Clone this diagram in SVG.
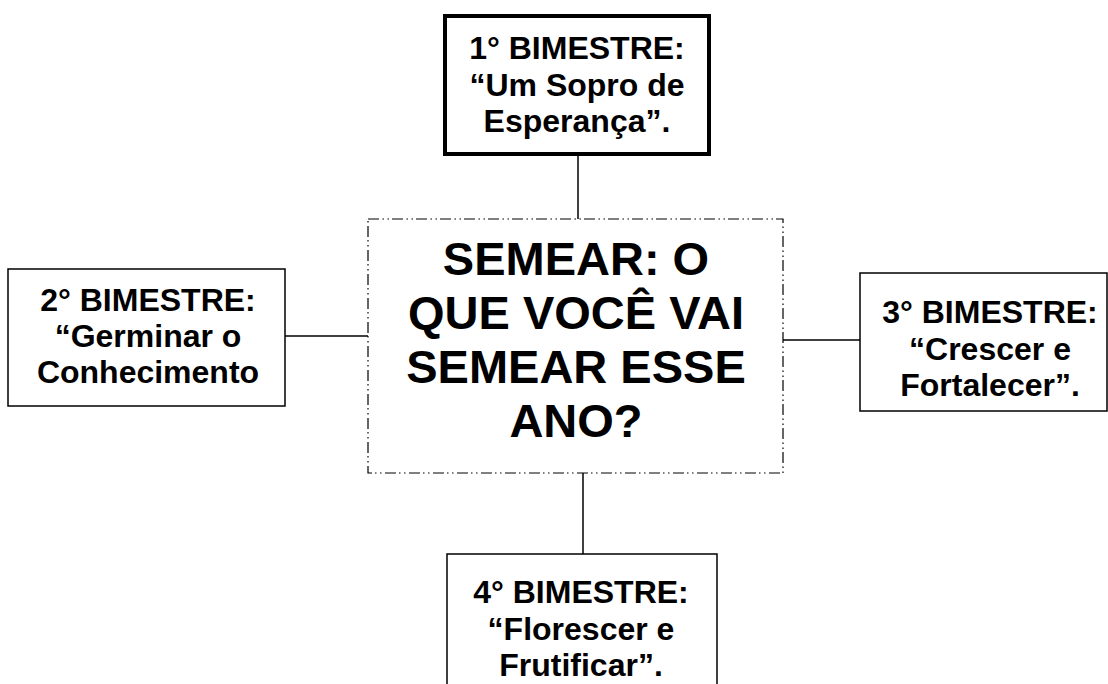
<svg xmlns="http://www.w3.org/2000/svg" width="1108" height="684" viewBox="0 0 1108 684">
<style>
.box{fill:#fff;stroke:#000;stroke-width:1.5}
.thick{fill:#fff;stroke:#000;stroke-width:4}
.center{fill:#fff;stroke:#000;stroke-width:1.2;stroke-dasharray:11 3.5 1.5 3.5 1.5 3}
.conn{stroke:#000;stroke-width:1.5;fill:none}
.t{font-family:"Liberation Sans",Arial,sans-serif;font-weight:bold;font-size:32px;fill:#000;text-anchor:middle}
.tc{font-family:"Liberation Sans",Arial,sans-serif;font-weight:bold;font-size:47px;fill:#000;text-anchor:middle}
</style>
<rect width="1108" height="684" fill="#fff"/>
<g id="connectors">
<line class="conn" x1="578" y1="154" x2="578" y2="219"/>
<line class="conn" x1="285" y1="336" x2="368" y2="336"/>
<line class="conn" x1="783" y1="340" x2="860" y2="340"/>
<line class="conn" x1="583" y1="473" x2="583" y2="554"/>
</g>
<g id="center">
<rect class="center" x="368" y="219" width="415" height="254"/>
<text class="tc" x="576" y="275">SEMEAR: O</text>
<text class="tc" x="576" y="329">QUE VOCÊ VAI</text>
<text class="tc" x="576" y="383">SEMEAR ESSE</text>
<text class="tc" x="576" y="437">ANO?</text>
</g>
<g id="b1">
<rect class="thick" x="445" y="16" width="264" height="138"/>
<text class="t" x="577" y="59">1° BIMESTRE:</text>
<text class="t" x="577" y="96">“Um Sopro de</text>
<text class="t" x="577" y="132">Esperança”.</text>
</g>
<g id="b2">
<rect class="box" x="8" y="269" width="277" height="137"/>
<text class="t" x="148" y="311">2° BIMESTRE:</text>
<text class="t" x="148" y="347">“Germinar o</text>
<text class="t" x="148" y="383">Conhecimento</text>
</g>
<g id="b3">
<rect class="box" x="860" y="273" width="247" height="138"/>
<text class="t" x="990" y="323">3° BIMESTRE:</text>
<text class="t" x="990" y="360">“Crescer e</text>
<text class="t" x="990" y="396">Fortalecer”.</text>
</g>
<g id="b4">
<rect class="box" x="447" y="554" width="270" height="140"/>
<text class="t" x="581" y="603">4° BIMESTRE:</text>
<text class="t" x="581" y="640">“Florescer e</text>
<text class="t" x="581" y="676">Frutificar”.</text>
</g>
</svg>
